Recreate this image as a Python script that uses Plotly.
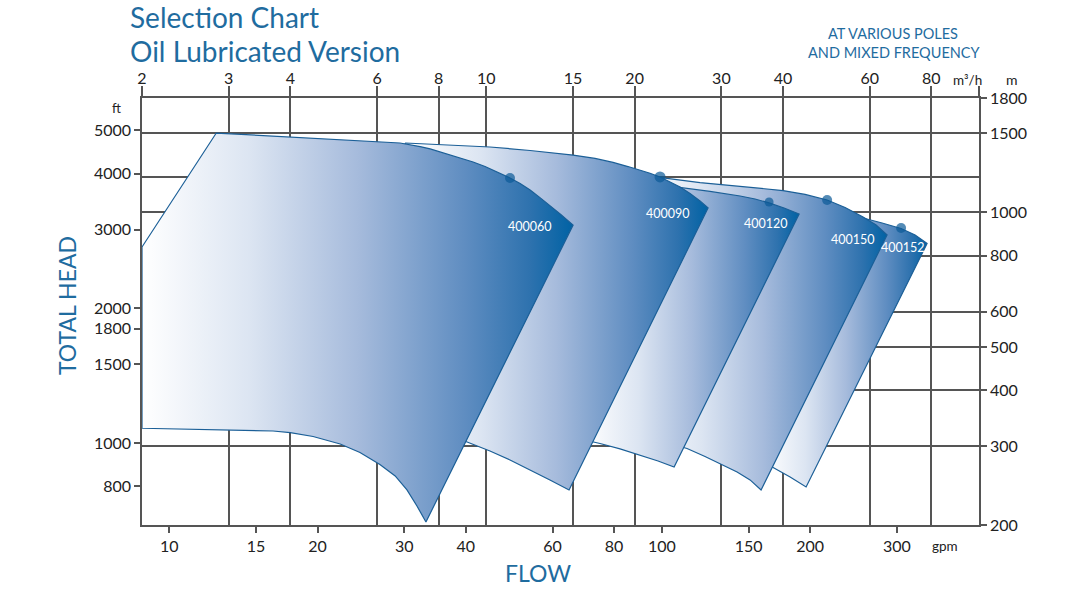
import math
import plotly.graph_objects as go

# ---- data (flow in m3/h, head in m) ----
models = ["400152", "400150", "400120", "400090", "400060"]

flow_400060 = [2.00, 2.83, 6.68, 7.00, 7.34, 7.69, 8.05, 8.44, 8.84, 9.40, 9.94, 10.51, 11.17, 11.71,
               12.27, 12.85, 13.46, 14.18, 15.00,
               7.54, 7.23, 6.90, 6.53, 6.08, 5.54, 5.05, 4.45, 4.00, 3.69, 3.02, 2.00, 2.00]
head_400060 = [836, 1503, 1428, 1416, 1402, 1385, 1365, 1345, 1324, 1295, 1265, 1232, 1193, 1159,
               1121, 1078, 1035, 987, 936,
               203.1, 220.6, 239.5, 257.4, 273.1, 290.5, 303.5, 315.4, 321.6, 324.4, 325.6, 329.0, 836]

flow_400090 = [6.84, 8.44, 10.17, 12.27, 15.00, 16.62, 18.08, 19.39, 20.51, 21.49, 22.52, 23.60,
               24.73, 25.91, 27.15, 28.19,
               14.72, 13.46, 12.27, 11.17, 10.17, 9.14, 8.05, 6.84, 6.84]
head_400090 = [1428, 1413, 1399, 1374, 1342, 1319, 1292, 1265, 1243, 1222, 1199, 1171,
               1139, 1101, 1060, 1022,
               239.5, 252.2, 265.5, 279.5, 292.7, 306.6, 322.0, 334.6, 1428]

flow_400120 = [15.86, 18.68, 21.49, 24.73, 28.45, 32.74, 35.11, 37.49, 40.21, 43.14,
               24.05, 22.31, 20.51, 18.68, 17.01, 15.86, 15.86]
head_400120 = [1211, 1183, 1159, 1136, 1113, 1087, 1070.5, 1049, 1022, 991,
               269.6, 278.0, 286.7, 295.8, 304.2, 309.7, 1211]

flow_400150 = [20.51, 22.84, 27.15, 32.74, 40.02, 44.36, 49.17, 53.48, 58.17, 61.82, 65.08,
               36.11, 34.30, 32.28, 30.24, 27.79, 25.55, 22.52, 20.51, 20.51]
head_400150 = [1217, 1193, 1165, 1144, 1118, 1096, 1065, 1025, 975.6, 936.3, 889.4,
               239.5, 252.2, 262.7, 272.4, 284.6, 296.5, 308.2, 314.6, 1217]

flow_400152 = [37.67, 43.34, 49.86, 54.74, 58.17, 63.58, 69.48, 74.18, 78.46,
               44.57, 41.36, 38.20, 36.79, 37.67]
head_400152 = [1065, 1043, 1011.6, 988.4, 970.6, 946.0, 919.7, 889.4, 851.3,
               243.2, 256.1, 268.9, 275.2, 1065]

# best-efficiency dots
dot_models = ["400060", "400090", "400120", "400150", "400152"]
dot_flow = [11.17, 22.52, 37.49, 49.17, 69.48]
dot_head = [1193, 1199, 1054, 1065, 922]

# model label anchors
label_flow = [12.27, 23.38, 36.88, 55.51, 69.97]
label_head = [927, 991, 946, 867, 836]

# axis ticks
m3h_ticks = [2, 3, 4, 6, 8, 10, 15, 20, 30, 40, 60, 80]
m_ticks = [200, 300, 400, 500, 600, 800, 1000, 1500, 1800]
gpm_ticks = [10, 15, 20, 30, 40, 60, 80, 100, 150, 200, 300]
ft_ticks = [800, 1000, 1500, 1800, 2000, 3000, 4000, 5000]

GPM_PER_M3H = 4.402868
FT_PER_M = 1 / 0.3048

shapes = {
    "400060": (flow_400060, head_400060),
    "400090": (flow_400090, head_400090),
    "400120": (flow_400120, head_400120),
    "400150": (flow_400150, head_400150),
    "400152": (flow_400152, head_400152),
}

BLUE = "#1f6c9f"
GRID = "#555555"
FONT = "Lato"
cscale = [[0, "#ffffff"], [0.25, "#dce5f2"], [0.5, "#a6bbdc"], [0.75, "#5f8dc1"],
          [0.9, "#2e72ae"], [1, "#0062a4"]]

fig = go.Figure()

for name in models:
    fx, hy = shapes[name]
    fig.add_trace(go.Scatter(
        x=fx, y=hy, mode="lines", fill="toself",
        fillgradient=dict(type="horizontal", colorscale=cscale),
        line=dict(color="#1b5f97", width=1.2),
        hoverinfo="skip", showlegend=False,
    ))

fig.add_trace(go.Scatter(
    x=dot_flow, y=dot_head, mode="markers",
    marker=dict(color="#0b5a97", size=[10, 11, 9, 10, 10], line=dict(width=0)),
    hoverinfo="skip", showlegend=False,
))

# invisible trace to activate gpm / ft axes
fig.add_trace(go.Scatter(x=[50], y=[2000], xaxis="x2", yaxis="y2", mode="markers",
                         marker=dict(opacity=0), hoverinfo="skip", showlegend=False))

tickfont = dict(family=FONT, size=16, color="#222")

fig.update_layout(
    width=1084, height=592, autosize=False,
    margin=dict(l=142, r=105, t=98, b=67),
    paper_bgcolor="white", plot_bgcolor="white",
    hovermode=False,
    xaxis=dict(type="log", range=[math.log10(2), math.log10(100)], side="top", anchor="y",
               tickmode="array", tickvals=m3h_ticks + [100],
               ticktext=[str(v) for v in m3h_ticks] + [""],
               ticks="outside", ticklen=10, tickwidth=1.5, tickcolor=GRID,
               ticklabelstandoff=-4,
               showgrid=True, gridcolor=GRID, gridwidth=1.5,
               showline=True, linecolor=GRID, linewidth=1.5,
               zeroline=False, tickfont=tickfont, fixedrange=True),
    yaxis=dict(type="log", range=[math.log10(200), math.log10(1800)], side="right", anchor="x",
               tickmode="array", tickvals=m_ticks, ticktext=[str(v) for v in m_ticks],
               ticks="outside", ticklen=6, tickwidth=1.5, tickcolor=GRID,
               showgrid=True, gridcolor=GRID, gridwidth=1.5,
               minor=dict(tickmode="array", tickvals=[1200], showgrid=True,
                          gridcolor=GRID, gridwidth=1.5, ticks=""),
               showline=True, linecolor=GRID, linewidth=1.5,
               zeroline=False, tickfont=tickfont, fixedrange=True),
    xaxis2=dict(type="log", overlaying="x", side="bottom", anchor="y",
                range=[math.log10(2 * GPM_PER_M3H), math.log10(100 * GPM_PER_M3H)],
                tickmode="array", tickvals=gpm_ticks, ticktext=[str(v) for v in gpm_ticks],
                ticks="outside", ticklen=6, tickwidth=1.5, tickcolor=GRID,
                showgrid=False, showline=True, linecolor=GRID, linewidth=1.5,
                zeroline=False, tickfont=tickfont, fixedrange=True),
    yaxis2=dict(type="log", overlaying="y", side="left", anchor="x",
                range=[math.log10(200 * FT_PER_M), math.log10(1800 * FT_PER_M)],
                tickmode="array", tickvals=ft_ticks, ticktext=[str(v) for v in ft_ticks],
                ticks="outside", ticklen=6, tickwidth=1.5, tickcolor=GRID,
                showgrid=False, showline=True, linecolor=GRID, linewidth=1.5,
                zeroline=False, tickfont=tickfont, fixedrange=True),
)

ann = []
for name, fx, hy in zip(dot_models, label_flow, label_head):
    ann.append(dict(x=math.log10(fx), y=math.log10(hy), xref="x", yref="y", text=name,
                    showarrow=False, font=dict(family=FONT, size=12.5, color="white"),
                    xanchor="center", yanchor="middle"))


def paper_text(text, x, y, size, color, weight="normal", **kw):
    d = dict(x=x, y=y, xref="paper", yref="paper", text=text, showarrow=False,
             font=dict(family=FONT, size=size, color=color, weight=weight),
             xanchor="center", yanchor="middle", borderpad=0)
    d.update(kw)
    return d


ann += [
    paper_text("Selection Chart", -0.0155, 1.1897, 28, BLUE, xanchor="left"),
    paper_text("Oil Lubricated Version", -0.0155, 1.1112, 28, BLUE, xanchor="left"),
    paper_text("AT VARIOUS POLES", 0.8973, 1.1522, 14.5, BLUE),
    paper_text("AND MIXED FREQUENCY", 0.8985, 1.1054, 14.5, BLUE),
    paper_text("TOTAL HEAD", -0.0896, 0.5129, 23, BLUE, textangle=-90),
    paper_text("FLOW", 0.4731, -0.1124, 23, BLUE),
    paper_text("ft", -0.0299, 0.9766, 13, "#222"),
    paper_text("m³/h", 0.9857, 1.0422, 13.5, "#222"),
    paper_text("m", 1.0394, 1.0422, 14, "#222"),
    paper_text("gpm", 0.9594, -0.0492, 13.5, "#222"),
]
fig.update_layout(annotations=ann)

fig.write_html("out.html", config={"displayModeBar": False})
